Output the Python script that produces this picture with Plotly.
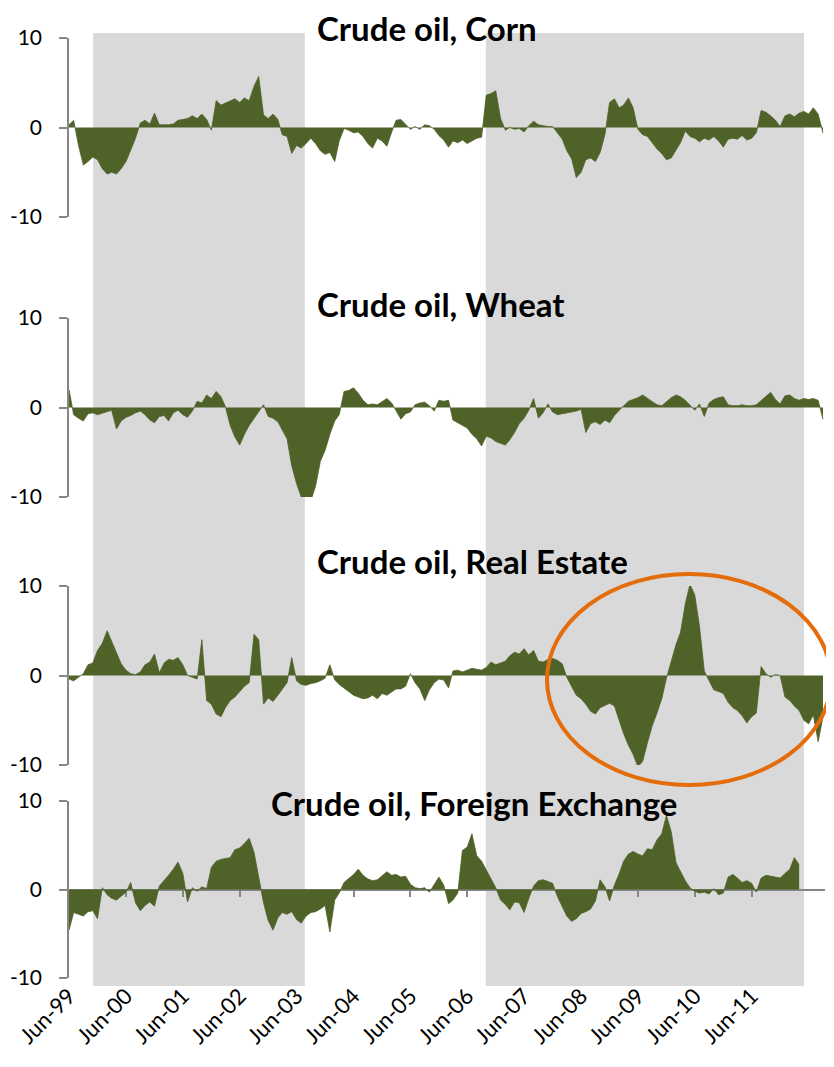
import plotly.graph_objects as go
import pandas as pd

# %%
# monthly readings, Jun-99 onwards
corn = [
    0.3, 0.8, -2.0, -4.2, -3.8, -3.3, -3.6, -4.6, -5.2, -5.0,
    -5.2, -4.6, -3.8, -2.5, -1.2, 0.5, 0.8, 0.4, 1.6, 0.3,
    0.3, 0.3, 0.4, 0.8, 0.9, 1.0, 1.3, 1.0, 1.5, 0.9,
    -0.3, 3.0, 2.5, 2.7, 2.9, 3.2, 2.8, 3.3, 3.0, 4.6,
    5.7, 1.4, 1.0, 1.5, 0.9, -0.8, -1.0, -2.9, -2.0, -2.3,
    -1.8, -1.2, -1.8, -2.6, -3.0, -2.8, -3.8, -1.5, -0.1, -0.3,
    -0.6, -0.5, -1.0, -1.8, -2.3, -1.2, -1.5, -2.1, -0.5, 0.8,
    0.9, 0.3, -0.2, 0.1, -0.2, 0.3, 0.2, -0.2, -0.9, -1.4,
    -2.2, -1.5, -1.7, -1.4, -1.8, -1.5, -1.2, -1.1, 3.6, 3.8,
    4.1, 1.0, -0.3, 0.0, -0.2, -0.1, -0.5, 0.2, 0.7, 0.3,
    0.2, 0.1, 0.1, -0.6, -1.3, -2.6, -3.5, -5.6, -5.0, -3.6,
    -3.4, -3.8, -2.8, -0.8, 2.8, 3.2, 2.2, 2.5, 3.3, 2.2,
    -0.2, -0.8, -1.0, -1.7, -2.4, -2.9, -3.6, -3.4, -2.5, -1.7,
    -0.4, -1.0, -1.2, -1.6, -1.2, -1.4, -1.0, -1.5, -2.2, -1.3,
    -1.2, -1.3, -0.9, -1.4, -1.2, -0.6, 1.9, 1.7, 1.3, 0.8,
    0.1, 1.3, 1.5, 1.2, 1.6, 1.8, 1.5, 2.2, 1.5, -0.6,
]
wheat = [
    2.0, -0.8, -1.2, -1.5, -0.7, -0.6, -0.8, -0.6, -0.4, -0.3,
    -2.4, -1.5, -1.1, -0.9, -0.6, -0.4, -0.8, -1.4, -1.7, -1.0,
    -0.9, -1.5, -0.6, -0.3, -0.8, -1.1, -0.4, 0.7, 0.5, 1.4,
    1.0, 1.8, 1.2, 0.1, -2.0, -3.3, -4.2, -3.0, -2.0, -1.2,
    -0.5, 0.3, -1.0, -1.2, -1.6, -2.5, -3.5, -6.5, -8.5, -10.0,
    -10.4, -10.4, -8.8, -6.0, -4.8, -3.0, -1.5, -0.8, 1.8, 1.9,
    2.2, 1.6, 0.8, 0.3, 0.4, 0.3, 0.6, 1.0, 0.5, -0.3,
    -1.3, -0.7, -0.5, 0.3, 0.5, 0.6, 0.2, -0.4, 0.8, 0.7,
    0.8, -1.4, -1.7, -2.0, -2.3, -3.0, -3.5, -4.3, -3.2, -3.4,
    -3.8, -4.0, -4.2, -3.6, -2.8, -1.8, -1.2, -0.3, 1.0, -1.2,
    -0.6, 0.4, -0.5, -0.8, -0.7, -0.6, -0.5, -0.4, -0.2, -2.8,
    -1.8, -1.6, -1.9, -1.4, -1.7, -0.9, -0.3, 0.2, 0.7, 0.9,
    1.1, 1.4, 1.0, 0.6, 0.3, 0.2, 0.6, 1.1, 1.4, 1.2,
    0.8, 0.3, -0.3, 0.4, -1.0, 0.5, 0.9, 1.1, 1.2, 0.3,
    0.2, 0.2, 0.3, 0.2, 0.2, 0.3, 0.8, 1.2, 1.7, 0.9,
    0.4, 1.3, 1.4, 1.0, 0.8, 1.0, 0.9, 1.0, 0.8, -1.3,
]
real_estate = [
    -0.4, -0.6, -0.2, 0.2, 1.2, 1.4, 2.8, 3.6, 5.0, 3.8,
    2.5, 1.3, 0.6, 0.2, 0.1, 0.4, 1.2, 1.5, 2.4, 0.3,
    1.4, 1.8, 1.7, 2.0, 1.2, 0.0, -0.2, -0.4, 4.0, -2.8,
    -3.2, -4.3, -4.6, -3.6, -2.8, -2.4, -1.8, -1.2, -0.8, 4.6,
    4.0, -3.2, -2.5, -2.9, -2.2, -1.5, -0.8, 2.0, -0.6, -1.0,
    -1.1, -0.9, -0.8, -0.6, -0.3, 1.2, -0.5, -1.0, -1.4, -1.8,
    -2.2, -2.4, -2.6, -2.5, -2.2, -2.6, -2.0, -2.2, -1.8, -1.5,
    -1.5, -1.2, 0.2, -0.8, -1.5, -2.8, -1.6, -0.8, -0.4, -0.5,
    -1.4, 0.5, 0.6, 0.4, 0.6, 0.8, 0.7, 0.6, 0.9, 1.5,
    1.2, 1.4, 1.6, 2.2, 2.6, 2.4, 3.0, 2.3, 2.8, 1.6,
    1.5, 1.8, 1.9, 1.7, 1.3, -0.2, -1.2, -2.2, -2.6, -3.2,
    -4.0, -4.3, -3.6, -3.3, -3.1, -3.4, -5.0, -6.5, -7.8, -8.8,
    -10.2, -9.6, -7.5, -5.6, -4.2, -2.6, -0.3, 1.5, 3.5, 4.8,
    8.0, 10.2, 9.0, 5.5, 0.5, -0.6, -1.6, -1.8, -2.0, -3.0,
    -3.6, -3.9, -4.5, -5.3, -4.6, -4.2, 1.0, 0.2, -0.2, 0.1,
    0.0, -2.4, -2.8, -3.4, -3.9, -5.0, -5.4, -4.4, -7.4, -4.6,
]
fx = [
    -4.6, -2.6, -2.8, -3.0, -2.5, -2.4, -3.3, 0.2, -0.6, -1.0,
    -1.2, -0.7, -0.3, 0.8, -1.5, -2.4, -1.8, -1.4, -1.9, 0.4,
    1.0, 1.6, 2.3, 3.1, 1.8, -1.4, 0.2, -0.2, 0.3, 0.1,
    2.5, 3.2, 3.4, 3.5, 3.6, 4.5, 4.7, 5.2, 5.8, 4.2,
    1.2, -1.5, -3.5, -4.6, -3.2, -2.6, -2.8, -2.5, -3.4, -3.8,
    -3.0, -2.6, -2.5, -2.2, -1.8, -4.8, -1.2, -0.4, 0.8, 1.2,
    1.7, 2.3, 1.6, 1.2, 1.0, 1.1, 1.5, 2.0, 1.6, 1.7,
    1.4, 1.5, 0.6, 0.2, 0.1, 0.2, -0.3, 0.6, 1.4, 0.5,
    -1.6, -1.2, -0.4, 4.4, 4.8, 6.3, 3.8, 3.2, 2.2, 1.2,
    0.2, -1.2, -1.7, -2.3, -1.4, -1.5, -2.6, -1.0, 0.4, 1.0,
    1.1, 0.9, 0.7, -0.8, -2.0, -3.0, -3.6, -3.3, -2.7, -2.5,
    -2.2, -1.3, 1.1, 0.3, -1.3, 0.5, 1.8, 3.2, 4.0, 4.3,
    4.0, 3.8, 4.6, 4.5, 5.6, 6.3, 8.4, 6.5, 3.0, 2.0,
    1.0, 0.2, -0.2, -0.4, -0.3, -0.5, 0.1, -0.6, -0.4, 1.4,
    1.7, 1.3, 0.8, 1.0, 0.7, -0.3, 1.3, 1.6, 1.5, 1.4,
    1.3, 1.8, 2.3, 3.6, 2.8,
]
titles = [
    "Crude oil, Corn",
    "Crude oil, Wheat",
    "Crude oil, Real Estate",
    "Crude oil, Foreign Exchange",
]
y_ticks = [-10, 0, 10]
y_tick_text = ["-10", "0", "10"]
shaded = [("1999-11-03", "2003-07-24"), ("2006-09-28", "2012-05-02")]

dates = pd.date_range("1999-06-01", periods=len(corn), freq="MS")
x_ticks = pd.date_range("1999-06-01", "2011-06-01", freq="12MS")
x_tick_text = [d.strftime("%b-%y") for d in x_ticks]

# page body has an 8px margin, so the figure is drawn 8px in from the corner
PAGE_PAD = 8
W, H = 834 - PAGE_PAD, 1067 - PAGE_PAD
GREEN = "#4F6228"
AXIS_GREY = "#868686"

# panel pixel extents on the page (top of +10, bottom of -10)
panels_px = [(38, 217), (318, 497), (586, 765), (801, 978)]
title_px = [(316, 28), (316, 304), (316, 561), (270, 803)]


def px_x(px):
    return (px - PAGE_PAD) / W


def px_y(px):
    return 1 - (px - PAGE_PAD) / H


domains = [[px_y(b), px_y(t)] for t, b in panels_px]

fig = go.Figure()
series = [corn, wheat, real_estate, fx]
for i, vals in enumerate(series):
    fig.add_trace(
        go.Scatter(
            x=dates[: len(vals)],
            y=vals,
            mode="lines",
            fill="tozeroy",
            fillcolor=GREEN,
            line=dict(color=GREEN, width=0.8),
            xaxis="x2" if i == 3 else "x",
            yaxis="y" if i == 0 else f"y{i + 1}",
            hoverinfo="skip",
            showlegend=False,
        )
    )

x_range = ["1999-06-01", "2012-09-14"]
x_dom = [px_x(69), px_x(825)]
zero_fx = sum(domains[3]) / 2

layout = dict(
    width=W,
    height=H,
    margin=dict(l=0, r=0, t=0, b=0, autoexpand=False),
    paper_bgcolor="white",
    plot_bgcolor="rgba(0,0,0,0)",
    font=dict(family="Lato, Liberation Sans, sans-serif", color="black", size=20),
    # zero-line axis with tick marks on the bottom panel
    xaxis=dict(
        domain=x_dom,
        range=x_range,
        anchor="free",
        position=zero_fx,
        automargin=False,
        showline=True,
        linecolor=AXIS_GREY,
        linewidth=1.5,
        ticks="outside",
        ticklen=7,
        tickcolor=AXIS_GREY,
        tickwidth=1.5,
        tickvals=x_ticks,
        showticklabels=False,
        showgrid=False,
        zeroline=False,
    ),
    # labels under the bottom panel
    xaxis2=dict(
        domain=x_dom,
        range=x_range,
        matches="x",
        overlaying="x",
        anchor="free",
        position=domains[3][0],
        automargin=False,
        showline=False,
        ticks="",
        tickvals=x_ticks,
        ticktext=x_tick_text,
        tickangle=-45,
        tickfont=dict(size=22),
        showgrid=False,
        zeroline=False,
    ),
)

for i, dom in enumerate(domains):
    key = "yaxis" if i == 0 else f"yaxis{i + 1}"
    layout[key] = dict(
        domain=dom,
        range=[-10, 10],
        anchor="x",
        automargin=False,
        tickvals=y_ticks,
        ticktext=y_tick_text,
        showline=True,
        linecolor=AXIS_GREY,
        linewidth=1.5,
        ticks="outside",
        ticklen=8,
        tickcolor=AXIS_GREY,
        tickwidth=1.5,
        ticklabelstandoff=13,
        tickfont=dict(size=21),
        showgrid=False,
        zeroline=False,
    )

fig.update_layout(**layout)

for x0, x1 in shaded:
    fig.add_shape(
        type="rect",
        xref="x",
        yref="paper",
        x0=x0,
        x1=x1,
        y0=px_y(986),
        y1=px_y(33),
        fillcolor="#D9D9D9",
        line_width=0,
        layer="below",
    )

for text, (tx, ty) in zip(titles, title_px):
    fig.add_annotation(
        text=f"<b>{text}</b>",
        xref="paper",
        yref="paper",
        x=px_x(tx),
        y=px_y(ty),
        xanchor="left",
        yanchor="middle",
        showarrow=False,
        borderpad=0,
        font=dict(size=33, color="black"),
    )

# highlight ring around the 2008-2012 real estate swing
fig.add_shape(
    type="circle",
    xref="paper",
    yref="paper",
    x0=px_x(547),
    x1=px_x(831),
    y0=px_y(785),
    y1=px_y(574),
    line=dict(color="#E46C0A", width=4),
)

fig.write_html("out.html")
